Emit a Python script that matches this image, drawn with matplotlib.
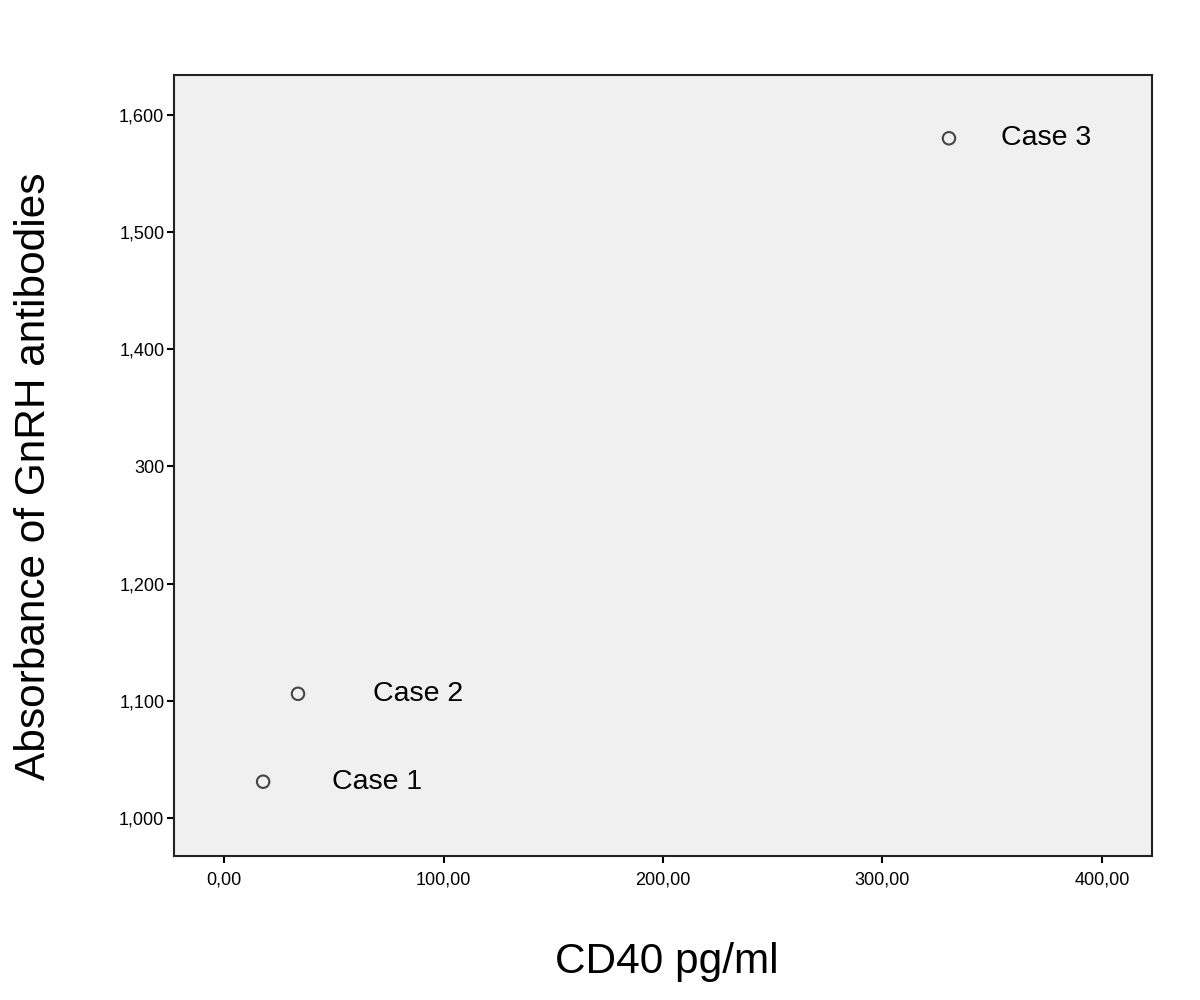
import matplotlib.pyplot as plt

# values
cd40 = [17.8, 33.7, 330.3]
absorbance = [1.031, 1.106, 1.580]
case_labels = ['Case 1', 'Case 2', 'Case 3']
label_dx = [69, 75, 52]  # pixel offsets of the case labels

xticks = [0, 100, 200, 300, 400]
xticklabels = ['0,00', '100,00', '200,00', '300,00', '400,00']
yticks = [1.0, 1.1, 1.2, 1.3, 1.4, 1.5, 1.6]
yticklabels = ['1,000', '1,100', '1,200', '300', '1,400', '1,500', '1,600']

plt.rcParams['font.family'] = ['Liberation Sans', 'DejaVu Sans']

fig = plt.figure(figsize=(12, 10), dpi=100)
ax = fig.add_axes([0.145, 0.144, 0.815, 0.781])
ax.set_facecolor('#f0f0f0')

ax.scatter(cd40, absorbance, s=80, facecolors='none', edgecolors='#444444',
           linewidths=1.5, zorder=3)
for x, y, lab, dx in zip(cd40, absorbance, case_labels, label_dx):
    ax.annotate(lab, (x, y), xytext=(dx, 0), textcoords='offset pixels',
                fontsize=20.5, va='center', ha='left')

ax.set_xlim(-22.8, 422.8)
ax.set_ylim(0.9676, 1.634)
ax.set_xticks(xticks)
ax.set_xticklabels(xticklabels)
ax.set_yticks(yticks)
ax.set_yticklabels(yticklabels)
ax.tick_params(direction='out', length=5, width=1.5, labelsize=13,
               colors='black', pad=2)
ax.tick_params(axis='x', pad=6)
for s in ax.spines.values():
    s.set_linewidth(1.5)
    s.set_color('#222222')

fig.text(0.556, 0.038, 'CD40 pg/ml', fontsize=30.5, ha='center', va='center')
fig.text(0.028, 0.5235, 'Absorbance of GnRH antibodies', fontsize=30.5,
         rotation=90, ha='center', va='center')

fig.savefig('out.png', dpi=100)
